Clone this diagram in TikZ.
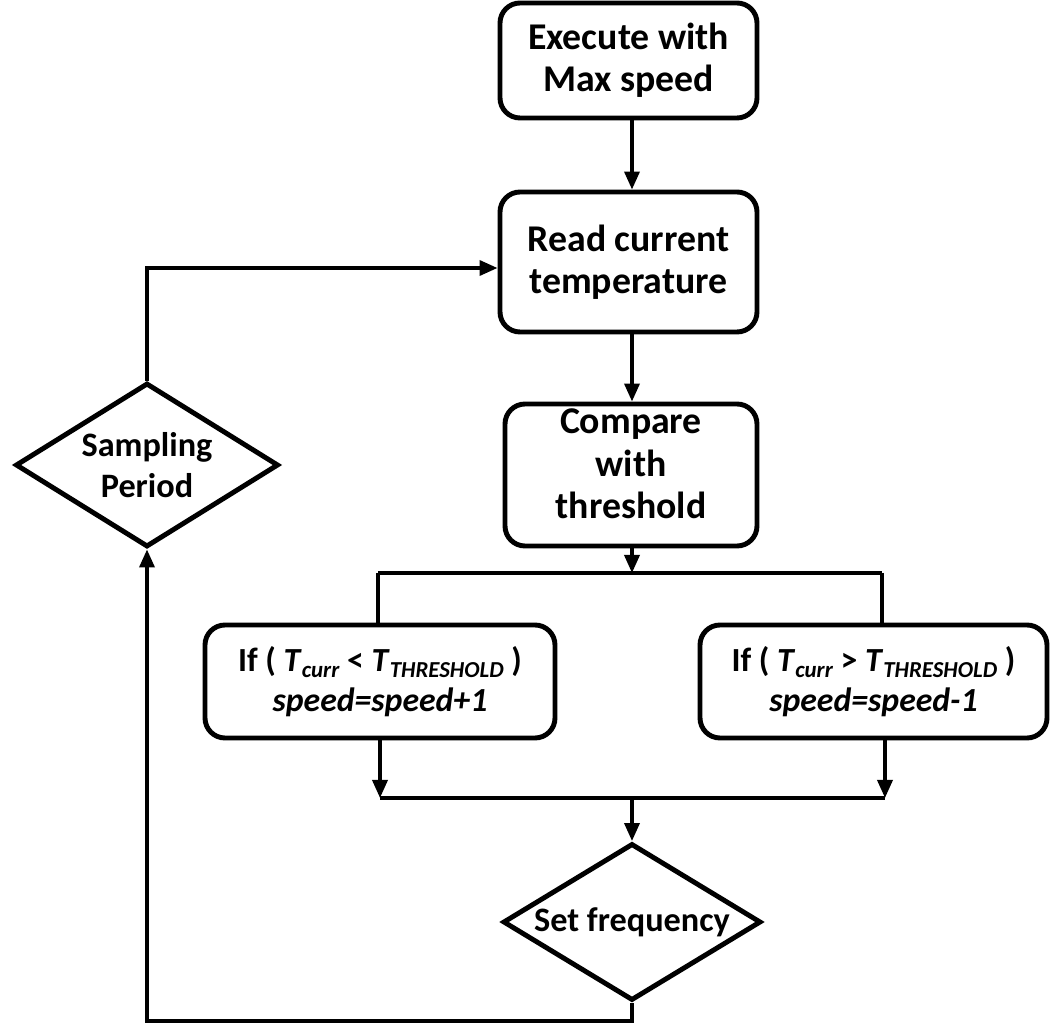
\documentclass[tikz,border=0pt]{standalone}
\usepackage{fontspec}
\setmainfont{Carlito}
\usetikzlibrary{shapes.geometric,arrows.meta}

\newcommand{\lowsub}[1]{\raisebox{-0.4ex}{\fontsize{13}{13}\selectfont\textit{#1}}}

\begin{document}
\begin{tikzpicture}[
  box/.style={draw, black, line width=2.8pt, rounded corners=0.4cm, inner sep=0pt, align=center, font=\bfseries\fontsize{21.5}{24}\selectfont},
  condbox/.style={box, font=\bfseries\fontsize{19.2}{23}\selectfont},
  decide/.style={draw, black, diamond, line width=2.8pt, inner sep=0pt, aspect=1.62, align=center, font=\bfseries\fontsize{19.5}{23}\selectfont},
  link/.style={black, line width=2pt},
  arr/.style={link, -{Triangle[length=0.36cm, width=0.3cm]}}
]
\useasboundingbox (0, 0) rectangle (21, 20.48);
\node[box, minimum width=5.14cm, minimum height=2.3cm] (exec) at (12.57, 19.27) {Execute with\\Max speed};
\node[box, minimum width=5.14cm, minimum height=2.8cm] (read) at (12.57, 15.24) {Read current\\temperature};
\node[box, minimum width=5.04cm, minimum height=2.84cm, text depth=0.45cm] (cmp) at (12.62, 10.98) {Compare\\with\\threshold};
\node[condbox, minimum width=7.0cm, minimum height=2.26cm] (inc) at (7.6, 6.85) {If ( \textit{T}\lowsub{curr} < \textit{T}\lowsub{THRESHOLD} )\\\textit{speed=speed+1}};
\node[condbox, minimum width=6.94cm, minimum height=2.26cm] (dec) at (17.47, 6.85) {If ( \textit{T}\lowsub{curr} > \textit{T}\lowsub{THRESHOLD} )\\\textit{speed=speed-1}};
\node[decide, minimum width=5.16cm, minimum height=3.14cm] (freq) at (12.64, 2.04) {Set frequency};
\node[decide, minimum width=5.26cm, minimum height=3.28cm] (samp) at (2.94, 11.18) {Sampling\\Period};
\coordinate (split) at (12.64, 9.02);
\coordinate (splitL) at (7.56, 9.02);
\coordinate (splitR) at (17.64, 9.02);
\coordinate (joinL) at (7.6, 4.52);
\coordinate (joinR) at (17.7, 4.52);
\coordinate (bottom) at (2.94, 0.06);
\draw[arr] (exec.south -| split) -- (read.north -| split);
\draw[arr] (read.south -| split) -- (cmp.north -| split);
\draw[arr] (cmp.south -| split) -- (split);
\draw[link] (splitL) -- (splitR);
\draw[link] (splitL) -- (splitL |- inc.north);
\draw[link] (splitR) -- (splitR |- dec.north);
\draw[arr] (joinL |- inc.south) -- (joinL);
\draw[arr] (joinR |- dec.south) -- (joinR);
\draw[link] (joinL) -- (joinR);
\draw[arr] (freq.north |- joinL) -- (freq.north);
\draw[arr] (freq.south) |- (bottom) -- (samp.south);
\draw[arr] (samp.north) |- ([yshift=-0.12cm]read.west);
\end{tikzpicture}
\end{document}
